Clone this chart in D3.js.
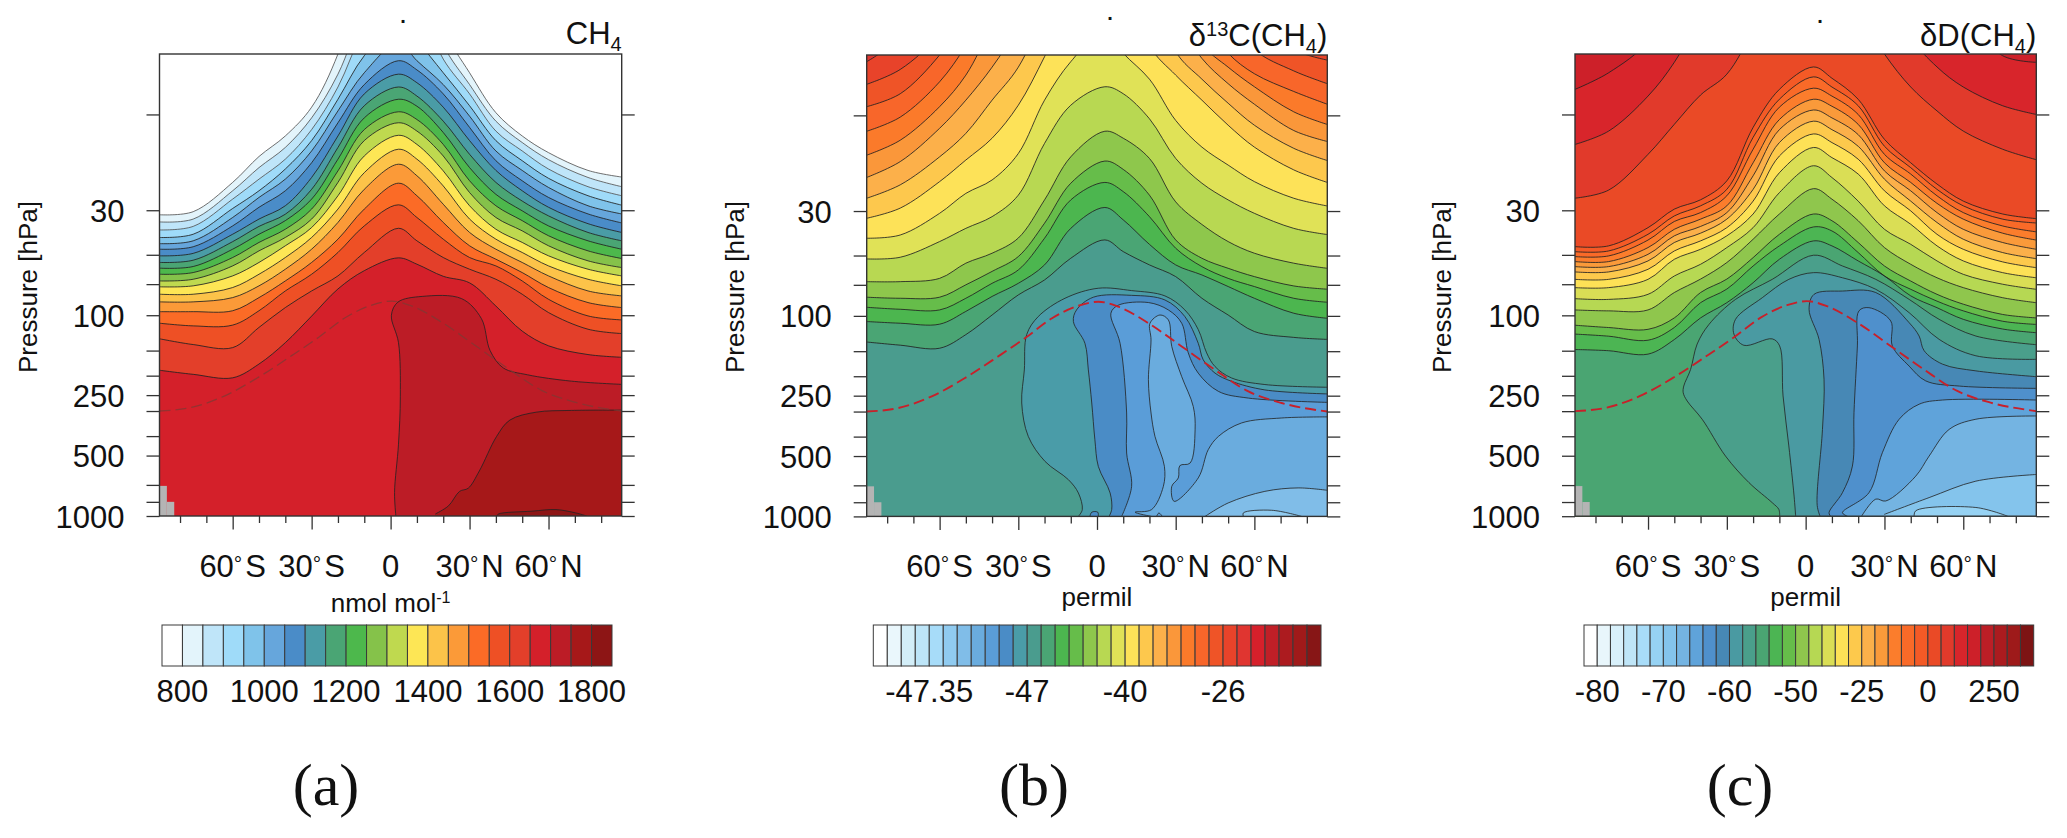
<!DOCTYPE html>
<html><head><meta charset="utf-8">
<style>html,body{margin:0;padding:0;background:#fff;overflow:hidden}text{font-family:"Liberation Sans",Arial,sans-serif;fill:#111}</style>
<script src="https://d3js.org/d3.v7.min.js"></script></head><body><svg id="c" width="2067" height="838"></svg>
<script>
const lats=[-87.8,-75,-60,-50,-40,-30,-20,-10,3,10,20,30,40,50,60,75,87.8];
const pressureTicks=[10,30,50,70,100,150,200,250,300,400,500,700,850,1000];
const pressureLabels=[30,100,250,500,1000];
const latMajor=[-60,-30,0,30,60];
const latMinor=[-80,-70,-50,-40,-20,-10,10,20,40,50,70,80];
const latNames={"-60":["60","S"],"-30":["30","S"],"0":["0",""],"30":["30","N"],"60":["60","N"]};
const tropoLat=[-87.8,-75.7,-63,-50.3,-37.6,-27.4,-17.3,-7.1,0.5,8.1,19.6,32.3,45,57.7,70.4,87.8];
const tropoP=[300,288,252,204,159,129,103,89,85,90,108.7,142,186,238,272,300];
const greyLat=[-87.8,-85,-82.2];
const greyTop=[708,850];

/* CH4 colour bands and levels */
const ch4Colors=["#ffffff","#e3f4fb","#bfe5f9","#9fdbf9","#7fc3ea","#66a6dc","#4a8cc8","#4a9ca6","#4aa574","#4db84c","#85c24a","#bfd94f","#fde655","#fcc349","#fb9a38","#fb6b26","#ee5025","#e33f2a","#d4202a","#bc1c26","#a61819","#8d1515"];
const ch4TickAt=[1,5,9,13,17,21];
const ch4TickText=["800","1000","1200","1400","1600","1800"];
const ch4Bands=[1,2,3,4,5,6,7,8,9,10,11,12,13,14,15,16,17,18];
const ch4Lines=[
[31.6,30.5,21.8,16.2,12.8,9.2,5.0,1.83,0.71,1.5,3.75,6.2,9.8,12.8,15.5,19,20.5],
[34.3,33.2,24,18.4,14.6,10.4,6.3,3.0,1.5,1.83,4.5,7.1,10.8,13.8,16.8,20.6,22.9],
[37.6,36.1,26.4,21,16.7,11.9,7.3,3.75,2.2,2.7,5.3,7.9,12.1,15.2,18.7,22.9,25.4],
[41,39.5,29.4,24,18.7,13.5,8.4,5.1,3.5,4.3,6.2,9.05,13.5,17,20.8,25.4,28.3],
[44,42.6,32.6,25.9,21,15.2,9.6,6.2,4.4,5.4,7.1,10.2,15.2,19,23.1,28.5,31.3],
[46.9,45.6,35.9,29,24,17.4,11,7.1,5.4,6,7.9,11.6,17,21.4,25.9,31.3,34.7],
[50.6,49.2,39.5,33.2,28.5,20.6,12.8,7.9,6.3,6.95,9.2,13.5,19,24,29,35,38.7],
[54.6,53.2,43,36.1,31.4,23.6,14.6,9.05,7.3,8.1,10.8,15.8,21.8,27,32,38.7,42.6],
[58.3,57.2,46.9,39.5,33.8,26.4,16.7,10.4,8.4,9.1,12.3,18.4,25,30.2,35.9,42.6,46.9],
[62.5,61.3,51.6,43.4,37.3,29.6,19.1,11.9,9.7,10.6,14.1,21.4,28.5,33.8,40.2,47.8,52.2],
[67.5,66.2,56.8,47.8,41,33.2,21.8,13.5,11,12.1,16.1,24.5,32.6,38,45.1,53.6,57.9],
[72.2,71.4,63.7,54.6,45.1,36.6,25.4,16.1,12.7,14.1,19.1,28.5,37.3,43.4,50.6,59,63.7],
[78.6,78.6,72.8,62.5,51.6,41,29.6,19.5,14.9,16.7,22.7,33.2,41.8,48.7,56.8,66.2,71.4],
[85.8,85.8,81.7,71.4,59,46.9,34.5,23.6,17.7,20.2,28,38.7,46.9,54.6,63.7,75.7,80.1],
[96,96,95,81.7,67.5,54.6,41.8,29.6,22,25.4,34.5,45.1,52.6,61.3,72.8,86.5,91.6],
[109.6,113,112,95,75.7,62.5,48.7,35.9,28.2,32.6,41.8,51.6,56.8,67.5,83.3,100.8,105.5],
[131,140,145,115,91.6,75.7,63.7,48.7,36.9,42.6,51.6,59,66.2,78.6,97,117.4,123.4],
[188,197,205,175,137,101,74,60,51.8,55.7,64,69,90,120,142,157,162]];
const ch4Patches=[
{band:19,lat:[2,1.5,3,3.7,3,0.3,2.8,12,27,34.5,37.8,42.8,52,68.7,87.8],p:[1000,764,439,253,137,100,86,80.6,82.7,104,150,183,198,213,221]},
{band:20,lat:[17,22,26.2,29.5,33.7,40.3,45.3,55.3,68.7,87.8],p:[977,890,754,727,597,401,333,304,298,297]},
{band:21,lat:[40.3,41,53.7,62.8,70.3,74.5],p:[1000,977,946,929,965,1000]}];

/* delta 13C colour bands and levels */
const d13Colors=["#ffffff","#eaf7fc","#d3eef8","#bde5f8","#a7dcf9","#90cbf0","#80bde8","#6aacde","#5a9dd8","#4a8cc6","#4a9ca8","#4a9c8e","#4aa574","#4cb64f","#66bd4a","#8ec74c","#b8d852","#e0e257","#fde258","#fdc84d","#fcb04a","#fa973a","#fb7a2a","#f8662a","#ef5427","#e8432a","#e03530","#d6202b","#c01f27","#ac1b1f","#a01a1a","#871616"];
const d13TickAt=[4,11,18,25];
const d13TickText=["-47.35","-47","-40","-26"];
const d13Bands=[25,24,23,22,21,20,19,18,17,16,15,14,13,12,11];
const d13Lines=[
[5.4,4,1.5,1.04,.71,.71,.71,.71,.71,.71,.71,.71,.71,1.04,1.5,3.2,4.4],
[7,5.9,3.9,2.2,1.5,1.04,.71,.71,.71,.71,.71,.71,1.04,1.5,3.2,4.7,5.3],
[9.05,7.8,5,3.2,1.83,1.25,.85,.71,.71,.71,.71,1.04,1.83,3,4.7,6,6.95],
[12,10.2,6.8,4.5,2.7,1.5,1.04,.71,.71,.71,.71,1.5,3.2,4.9,6.2,7.6,8.8],
[15.8,13.3,9.05,6.3,3.6,2.2,1.25,.71,.71,.71,.85,2.2,4.4,5.75,7.2,9.6,11.1],
[20.4,17,11.6,8.4,5.75,3.6,1.83,.85,.71,.71,1.25,3.2,5.2,6.95,8.8,11.9,13.5],
[25.9,22.2,16.1,12.3,8.4,5.75,3,1.25,.71,.71,1.83,4.8,6.6,8.7,11.2,14.6,16.8],
[32.6,29,21.4,16.7,13,8.9,5.1,2.7,1.5,1.83,4.5,6.3,8.4,11.2,14.4,18.7,21.6],
[41,39.5,30.8,24.5,21,15.5,8.4,5.4,3.75,4.9,6.6,10.6,14.4,17.7,21.4,25.9,28.3],
[52,51,42.6,36.6,32,25,13.8,8.9,7.2,7.8,10.4,16.4,21.8,26.4,30.8,36.6,39.3],
[67.5,67.5,65,54.6,48.7,40.9,26.4,16.1,12,13,16.4,27,35,42.6,48.7,54.6,57.9],
[80.7,81.7,80.7,70,60,50.6,34.5,21.8,16.9,18.6,25,41.8,51.6,57.9,63.7,70.9,73.6],
[90.6,92.7,93.4,81.7,68.8,59,41,26.4,21.6,24,32,46,56.8,65,71.4,81.7,85.5],
[106.7,108.8,110,95,80,68.8,55.7,36.6,28.8,33.2,44,55.7,62.5,71.4,81.7,97,102.8],
[135,140,145,124,99,78.6,66.2,51.6,41.8,47.8,55.7,63.7,81.7,99,119.7,128,131]];
const d13Patches=[
{band:10,lat:[-7.1,-5.6,-7.1,-10.9,-19.8,-26.2,-28.7,-27.7,-26.8,-22.4,-12.2,0.5,13.2,25.9,33.5,38.6,41.8,45,51.3,64,87.8],p:[1000,925,764,656,532,399,272,186,124,100.8,81.7,72.8,74.8,79.5,93.4,117,153,179,204,220,227]},
{band:9,lat:[4.6,5.6,5,0.5,-0.8,-2,-3.3,-4.6,-9,-7.8,-1.4,13.2,25.9,33.5,38.6,40.5,45,51.3,64,87.8],p:[1000,925,764,563,415,272,186,137,106.7,93.4,80.7,79,83.3,100.8,137,165.6,193,212,234,245]},
{band:8,lat:[9.4,13.2,11.3,11.3,8.8,5.3,8.1,19.6,27.2,32.3,34.8,38.6,46.3,57.7,87.8],p:[1000,708,483,305,137,97,88.5,85.8,93.4,108.8,153,193,238,257,270]},
{band:7,lat:[20.8,14.5,20.8,25.3,25.7,22.1,20.6,19.6,20.6,20.2,24,27.2,28.5,32.3,36.7,37.4,35.5,31.6,31,28.5,29.4,38.6,42.4,46.3,55.1,70.4,87.8],p:[1000,953,925,708,563,399,305,208,131.7,108.8,99,104.7,142,201,283,370,542,558,643,708,841,643,465,399,342,323,319]},
{band:6,lat:[41.2,50,64,76.7,87.8],p:[1000,857,750,721,741]},
{band:5,lat:[55.8,55.8,66.6,78],p:[1000,961,932,1000]},
{band:9,lat:[-2.7,-2,0.3,0.5],p:[1000,953,953,1000]},
{band:8,lat:[22.7,23.6,24.9],p:[1000,961,1000]}];

/* delta D colour bands and levels */
const dDColors=["#ffffff","#e8f6fb","#d8f0fa","#bfe5f7","#a8dcf8","#96d2f3","#84c4ec","#74b4e2","#5fa3da","#4f90cc","#4788b5","#4a9aa2","#4a9f8b","#4aa572","#4cb553","#66bd4a","#8fc64d","#b6d853","#dade55","#fde156","#fdc94c","#fbb04a","#fa9a3a","#fb7d2c","#f96a28","#f45a26","#ea4a26","#e13a2b","#d8252b","#cd2029","#bc1e26","#ab1b1f","#9e1a1a","#7d1414"];
const dDTickAt=[1,6,11,16,21,26,31];
const dDTickText=["-80","-70","-60","-50","-25","0","250"];
const dDBands=[28,27,26,25,24,23,22,21,20,19,18,17,16,15,14,13];
const dDLines=[
[7.5,6.2,4.3,2.2,1.04,.71,.71,.71,.71,.71,.71,.71,1.04,1.83,3.2,5.1,5.5],
[14.1,12.1,8.1,5.5,3.2,1.5,.71,.71,.71,.71,.71,1.83,4.1,5.8,7.3,9.05,10],
[26.1,23.8,15.8,11.2,8,6.3,3.75,1.83,.71,1.04,3,5,7.3,9.6,12.1,14.9,16.8],
[45.5,45.1,36.6,29.6,26.6,21.4,11.6,7.5,5.8,6.6,8.4,13.3,17.4,22.2,27,31.3,33],
[48.2,47.8,39.5,32,28.5,23.6,13,8.4,6.5,7.3,9.05,14.4,18.4,23.6,28.5,33.2,34.7],
[51,50.6,42.2,34.1,30.8,25.4,14.9,9.2,7.4,8.1,10,15.8,19.8,25.4,30.8,35.9,38.4],
[54,54,46,37.3,33.2,28.5,17.4,10.6,8.4,9.1,11.2,17.4,21.8,27.7,33.2,39,42.2],
[57.2,57.2,49.7,40.2,36.1,30.8,20.2,11.9,9.5,10.4,12.6,19.1,24,30.8,37.3,43.4,46.9],
[60.8,60.8,53.6,43.4,39,33.2,23.6,13.8,10.8,11.9,14.4,21,27,34.5,41.8,48.7,52.2],
[66.2,66.2,59,47.8,42.6,36.6,27,16.1,12.5,13.8,16.7,24,30.2,39.5,46.9,54.2,57.9],
[72.8,72.8,66.2,52.6,46.9,40.2,31.3,19.5,14.6,16.4,19.8,28.5,35.2,45.1,53.6,61.3,65],
[82.6,83.3,78.6,63.7,55.7,46,36.6,24.5,18,20.6,27,37.3,44.3,53.6,62.5,70,74.2],
[94,95,94,77,66,54.6,41.8,31.3,23.4,26.4,33.8,46,55.7,65,72.8,81.7,86.5],
[112,115,117.4,103,77,66,51.6,39.5,31.3,33.8,43.4,56.8,67.5,78.6,88,99,103],
[124,127,133,115,86.5,74,56.8,45.1,36.3,38,48.7,63.7,74.2,85,95,107,111],
[148,150,156,132,103,86.5,68.8,52.6,42.6,45.1,53.6,63.7,80,91.6,104.7,117,122]];
const dDPatches=[
{band:12,lat:[-9.9,-10.2,-12.7,-21.6,-30.5,-39.4,-45.1,-46.6,-46.4,-43.8,-41.3,-36.8,-26.7,-12.7,3,14,26.7,39.4,50.8,64.8,87.8],p:[1000,925,857,680,502,329,267,243,225,186,139,111,83.3,66.2,50.2,56.8,66.2,83.3,104.7,126.8,140]},
{band:11,lat:[-3.8,-4.4,-6.4,-8.6,-9.9,-12.7,-23.5,-27.3,-26.7,-16.5,-6.4,3,14,26.7,39.4,50.8,64.8,87.8],p:[1000,794,447,252,142,131,141,124,104.7,81.7,66.2,61.3,65,74.2,97,131.7,159,165.6]},
{band:10,lat:[5.5,4.4,6.4,7,5.1,1.3,3.2,14,26.7,39.4,43.2,45.1,52.1,64.8,87.8],p:[1000,885,370,208,131.7,93.4,78.6,75.7,77,108.8,126.8,150,175,189,202]},
{band:9,lat:[9.5,8.9,14,17.8,18.4,19.7,20.3,24.1,32.4,33,39.4,45.7,58.5,87.8],p:[1000,961,764,563,305,142,95,91.6,106.7,142,179,212,225,231]},
{band:8,lat:[15.9,14,24.1,29.2,35.6,43.2,52.1,87.8],p:[1000,961,764,483,329,277,264,264]},
{band:7,lat:[21.3,26.7,30.5,41.9,47,54.6,64.8,87.8],p:[1000,822,840,632,502,370,329,317]},
{band:6,lat:[29.9,47,64.8,87.8],p:[980,808,669,620]},
{band:5,lat:[41.3,41.9,64.8,76.9],p:[1000,940,905,1000]}];

const svg=d3.select("#c");
const panels=[
 {id:"a",left:159.5,right:621.7,top:54,bottom:516,colors:ch4Colors,top0:0,bands:ch4Bands,lines:ch4Lines,patches:ch4Patches,
  bar:[162,612],tickAt:ch4TickAt,tickText:ch4TickText,unit:"a",letter:"(a)",lx:326,dotx:403,doty:23,tropo:{c:"#7e3a34",w:1.3,o:.75},outerGrey:3,ylab:-123},
 {id:"b",left:866.7,right:1327.3,top:55,bottom:516.4,colors:d13Colors,top0:26,bands:d13Bands,lines:d13Lines,patches:d13Patches,
  bar:[873.3,1321],tickAt:d13TickAt,tickText:d13TickText,unit:"b",letter:"(b)",lx:1034,dotx:1110,doty:20,tropo:{c:"#c8202a",w:1.9,o:1},outerGrey:0,ylab:-123},
 {id:"c",left:1575,right:2036.3,top:54,bottom:516.2,colors:dDColors,top0:29,bands:dDBands,lines:dDLines,patches:dDPatches,
  bar:[1584,2033.7],tickAt:dDTickAt,tickText:dDTickText,unit:"b",letter:"(c)",lx:1740,dotx:1820,doty:23,tropo:{c:"#c8202a",w:1.9,o:1},outerGrey:0,ylab:-124}];

function label(g,px,py,txt,size,anchor){
 return g.append("text").attr("x",px).attr("y",py).attr("text-anchor",anchor).attr("font-size",size).text(txt);
}
panels.forEach(P=>{
 const g=svg.append("g");
 const x=d3.scaleLinear().domain([-87.8,87.8]).range([P.left,P.right]);
 const y=d3.scaleLog().domain([5,1000]).range([P.top,P.bottom]);
 const clip="clip"+P.id;
 g.append("clipPath").attr("id",clip).append("rect").attr("x",P.left).attr("y",P.top).attr("width",P.right-P.left).attr("height",P.bottom-P.top);
 const plot=g.append("g").attr("clip-path",`url(#${clip})`);
 plot.append("rect").attr("x",P.left).attr("y",P.top).attr("width",P.right-P.left).attr("height",P.bottom-P.top).attr("fill",P.colors[P.top0]);
 const smooth=d3.curveCatmullRom.alpha(.5);
 const line=d3.line().x((d,i)=>x(lats[i])).y(d=>y(d)).curve(smooth);
 P.lines.forEach((l,i)=>{
  plot.append("path").attr("d",line(l)+`L${P.right+4},${P.bottom+4}L${P.left-4},${P.bottom+4}Z`).attr("fill",P.colors[P.bands[i]]);
 });
 P.lines.forEach((l,i)=>{
  plot.append("path").attr("d",line(l)).attr("fill","none").attr("stroke",i<P.outerGrey?"#555":"#222").attr("stroke-width",1).attr("stroke-opacity",.85);
 });
 const poly=d3.line().x(d=>x(d[0])).y(d=>y(d[1])).curve(smooth);
 P.patches.forEach(pt=>{
  const pts=pt.lat.map((a,i)=>[a,pt.p[i]]);
  const la=pts[pts.length-1],fi=pts[0];
  const xe=la[0]>87?x(la[0])+4:x(la[0]);
  const d=poly(pts);
  plot.append("path").attr("d",d+`L${xe},${P.bottom+4}L${x(fi[0])},${P.bottom+4}Z`).attr("fill",P.colors[pt.band]);
  plot.append("path").attr("d",d).attr("fill","none").attr("stroke","#222").attr("stroke-width",1).attr("stroke-opacity",.8);
 });
 // tropopause
 const tl=d3.line().x(d=>x(d[0])).y(d=>y(d[1])).curve(d3.curveMonotoneX);
 plot.append("path").attr("d",tl(tropoLat.map((a,i)=>[a,tropoP[i]]))).attr("fill","none").attr("stroke",P.tropo.c).attr("stroke-width",P.tropo.w).attr("stroke-opacity",P.tropo.o).attr("stroke-dasharray","11 5");
 // missing data cells
 greyTop.forEach((t,i)=>{
  plot.append("rect").attr("x",x(greyLat[i])).attr("y",y(t)).attr("width",x(greyLat[i+1])-x(greyLat[i])).attr("height",P.bottom-y(t)).attr("fill","#b4b4b4");
 });
 // frame
 g.append("rect").attr("x",P.left).attr("y",P.top).attr("width",P.right-P.left).attr("height",P.bottom-P.top).attr("fill","none").attr("stroke","#333").attr("stroke-width",1.4);
 // axes
 const yAxisL=d3.axisLeft(y).tickValues(pressureTicks).tickSize(13).tickFormat("");
 const yAxisR=d3.axisRight(y).tickValues(pressureTicks).tickSize(13).tickFormat("");
 const xMaj=d3.axisBottom(x).tickValues(latMajor).tickSize(13.5).tickFormat("");
 const xMin=d3.axisBottom(x).tickValues(latMinor).tickSize(7).tickFormat("");
 [[yAxisL,`translate(${P.left},0)`],[yAxisR,`translate(${P.right},0)`],[xMaj,`translate(0,${P.bottom})`],[xMin,`translate(0,${P.bottom})`]].forEach(([ax,t])=>{
  const a=g.append("g").attr("transform",t).call(ax);
  a.select(".domain").remove();
  a.selectAll("line").attr("stroke","#333").attr("stroke-width",1.3);
 });
 pressureLabels.forEach(v=>{
  label(g,P.left-35,y(v)+11.5,v,31,"end");
 });
 latMajor.forEach(v=>{
  const nm=latNames[v];
  const t=label(g,x(v),577,"",31,"middle");
  t.append("tspan").text(nm[0]);
  if(nm[1]){
   t.append("tspan").attr("font-size",21).attr("dy",-6).text("°");
   t.append("tspan").attr("dy",6).attr("dx",3).text(nm[1]);
  }
 });
 g.append("text").attr("transform",`translate(${P.left+P.ylab},287) rotate(-90)`).attr("text-anchor","middle").attr("font-size",26).text("Pressure [hPa]");
 // unit
 const cx=x(0);
 if(P.unit==="a"){
  const u=label(g,cx,612,"",26,"middle");
  u.append("tspan").text("nmol mol");
  u.append("tspan").attr("dy",-9).attr("font-size",16).text("-1");
 } else {
  label(g,cx,606,"permil",26,"middle");
 }
 // title
 const ti=g.append("text").attr("x",P.right).attr("y",P.id=="a"?44:46).attr("text-anchor","end").attr("font-size",31);
 const sub=(txt)=>{ti.append("tspan").attr("dy",7).attr("font-size",20).text(txt);};
 if(P.id==="a"){ti.append("tspan").text("CH");sub("4");}
 if(P.id==="b"){ti.append("tspan").text("δ");ti.append("tspan").attr("dy",-10).attr("font-size",20).text("13");ti.append("tspan").attr("dy",10).text("C(CH");sub("4");ti.append("tspan").attr("dy",-7).text(")");}
 if(P.id==="c"){ti.append("tspan").text("δD(CH");sub("4");ti.append("tspan").attr("dy",-7).text(")");}
 g.append("text").attr("x",P.dotx).attr("y",P.doty).attr("text-anchor","middle").attr("font-size",20).attr("font-weight","bold").text(".");
 // colour bar
 const n=P.colors.length;
 const bx=d3.scaleLinear().domain([0,n]).range(P.bar);
 P.colors.forEach((c,i)=>{
  g.append("rect").attr("x",bx(i)).attr("y",625).attr("width",bx(1)-bx(0)).attr("height",41).attr("fill",c).attr("stroke","#3a3a3a").attr("stroke-width",1);
 });
 P.tickAt.forEach((t,i)=>{
  label(g,bx(t),702,P.tickText[i],31,"middle");
 });
 label(g,P.lx,805,P.letter,60,"middle").style("font-family",'"Liberation Serif",serif');
});
</script></body></html>
